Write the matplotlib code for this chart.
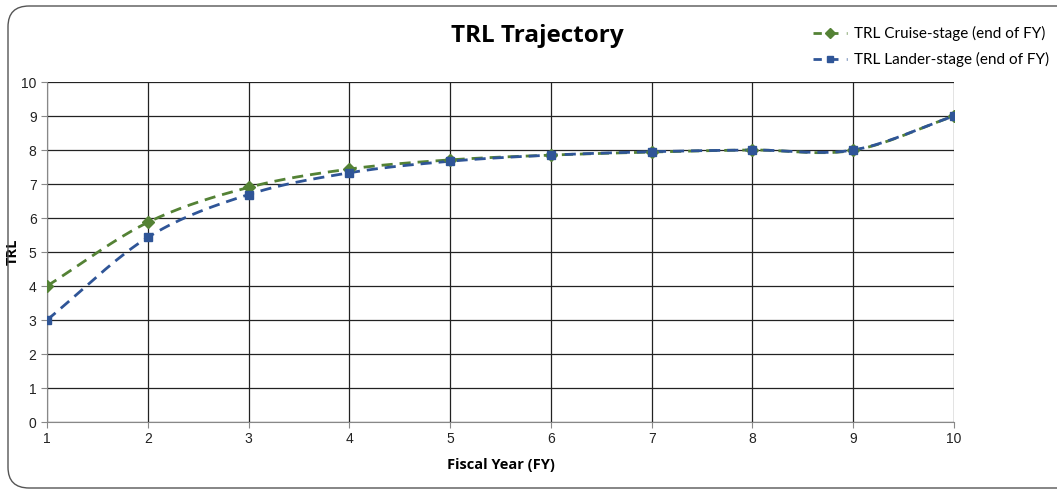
import numpy as np
import matplotlib
matplotlib.use("Agg")
import matplotlib.pyplot as plt
from matplotlib.patches import FancyBboxPatch

# data
fiscal_year = [1, 2, 3, 4, 5, 6, 7, 8, 9, 10]
trl_cruise = [4.0, 5.87, 6.9, 7.44, 7.71, 7.85, 7.94, 8.0, 7.99, 9.0]
trl_lander = [3.0, 5.43, 6.69, 7.33, 7.67, 7.85, 7.95, 8.0, 8.0, 9.0]


def smooth(x, y, n=20):
    # catmull-rom curve through the points, like excel's smoothed line
    x = np.asarray(x, float)
    y = np.asarray(y, float)
    px = np.concatenate([[2 * x[0] - x[1]], x, [2 * x[-1] - x[-2]]])
    py = np.concatenate([[2 * y[0] - y[1]], y, [2 * y[-1] - y[-2]]])
    xs, ys = [], []
    t = np.linspace(0, 1, n)
    for i in range(1, len(px) - 2):
        for p, out in ((px, xs), (py, ys)):
            p0, p1, p2, p3 = p[i - 1], p[i], p[i + 1], p[i + 2]
            out.extend(0.5 * (2 * p1 + (-p0 + p2) * t
                              + (2 * p0 - 5 * p1 + 4 * p2 - p3) * t ** 2
                              + (-p0 + 3 * p1 - 3 * p2 + p3) * t ** 3))
    return xs, ys


green = "#548235"
blue = "#2F5597"

fig = plt.figure(figsize=(10.57, 4.94), dpi=100)
ax = fig.add_axes([47 / 1057, 1 - 422 / 494, (954 - 47) / 1057, (422 - 82) / 494])

frame = FancyBboxPatch((8 / 1057, 6 / 494), 1.2, 1 - 12 / 494,
                       boxstyle="round,pad=0,rounding_size=0.02",
                       transform=fig.transFigure, fill=False,
                       edgecolor="#555555", linewidth=1.0, mutation_aspect=2.1)
fig.patches.append(frame)

sx, sy = smooth(fiscal_year, trl_cruise)
ax.plot(sx, sy, color=green, lw=2, dashes=(4, 2.5), zorder=3)
ax.plot(fiscal_year, trl_cruise, ls="none", marker="D", ms=6, color=green, zorder=4)
sx, sy = smooth(fiscal_year, trl_lander)
ax.plot(sx, sy, color=blue, lw=2, dashes=(4, 2.5), zorder=3)
ax.plot(fiscal_year, trl_lander, ls="none", marker="s", ms=6, color=blue, zorder=4)

ax.set_xlim(1, 10)
ax.set_ylim(0, 10)
ax.set_xticks(fiscal_year)
ax.set_yticks(range(0, 11))
ax.grid(True, color="#222222", lw=0.9)
ax.set_axisbelow(True)
for s in ax.spines.values():
    s.set_visible(False)
ax.spines["left"].set_visible(True)
ax.spines["bottom"].set_visible(True)
ax.spines["left"].set_color("#888888")
ax.spines["bottom"].set_color("#888888")
ax.tick_params(direction="out", length=4, color="#888888",
               labelsize=10, labelcolor="#222222")
for lab in ax.get_xticklabels() + ax.get_yticklabels():
    lab.set_family("Liberation Sans")

ax.set_xlabel("Fiscal Year (FY)", fontsize=10.5, fontweight="bold",
              family="Open Sans", labelpad=8)
ax.set_ylabel("TRL", fontsize=10.5, fontweight="bold", family="Open Sans")
ax.yaxis.set_label_coords(-27 / 907, 0.5)

fig.text(537 / 1057, 1 - 36 / 494, "TRL Trajectory", ha="center", va="center",
         fontsize=17.5, fontweight="bold", family="Open Sans")

h1, = ax.plot([], [], color=green, lw=2, dashes=(3, 3), marker="D", ms=5)
h2, = ax.plot([], [], color=blue, lw=2, dashes=(3, 3), marker="s", ms=5)
fig.legend([h1, h2], ["TRL Cruise-stage (end of FY)", "TRL Lander-stage (end of FY)"],
           loc="upper right", bbox_to_anchor=(1.006, 0.975), frameon=False,
           prop={"family": "Lato", "size": 11}, handlelength=2.2,
           labelspacing=0.7, handletextpad=0.5)

fig.savefig("out.png", dpi=100)
